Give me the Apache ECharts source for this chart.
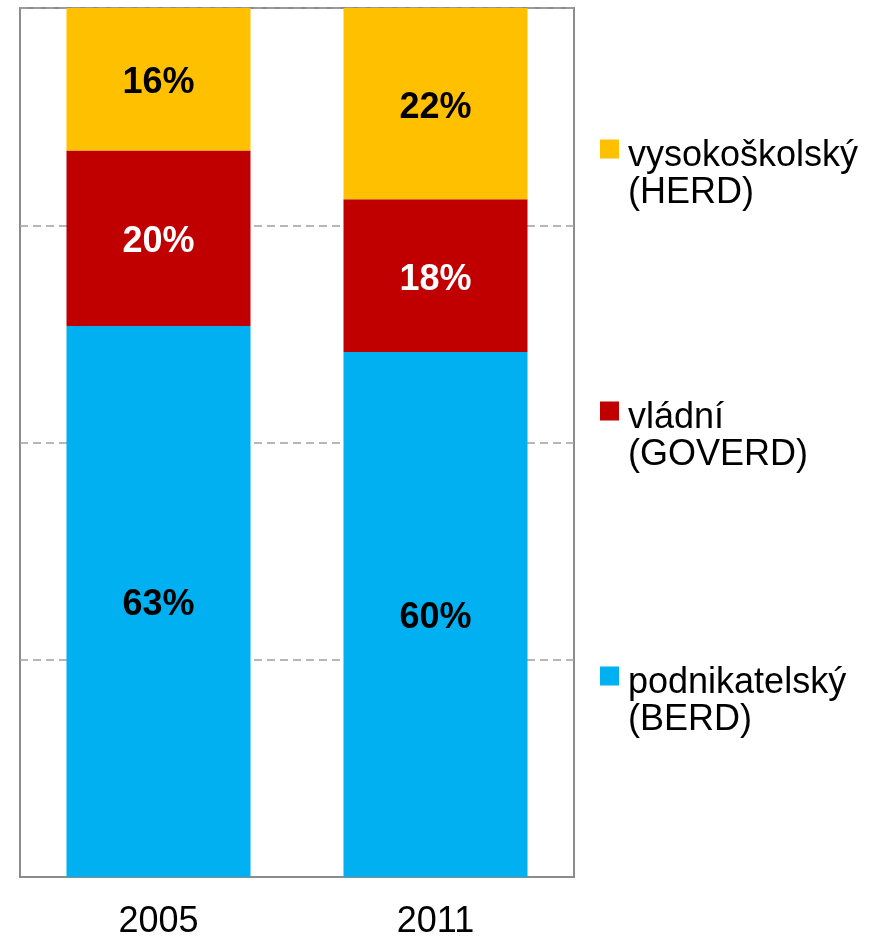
<!DOCTYPE html>
<html>
<head>
<meta charset="utf-8">
<script src="https://cdn.jsdelivr.net/npm/echarts@6/dist/echarts.min.js"></script>
<style>
    html, body { margin: 0; padding: 0; background: #fff; }
    #chart { width: 870px; height: 937px; }
</style>
</head>
<body>
<div id="chart"></div>
<script>
    // data (shares in %, stacked to 100)
    const years = ['2005', '2011'];
    const berd = [63.4, 60.4];    // podnikatelský
    const goverd = [20.2, 17.6];  // vládní
    const herd = [16.4, 22.0];    // vysokoškolský
    const seriesNames = ['podnikatelský\n(BERD)', 'vládní\n(GOVERD)', 'vysokoškolský\n(HERD)'];
    const yTicks = [0, 25, 50, 75, 100];

    const font = 'Liberation Sans, Arial, sans-serif';
    const colors = ['#00B0F0', '#C00000', '#FFC000'];
    const labelColors = ['#000', '#fff', '#000'];
    const values = [berd, goverd, herd];

    let mChart = echarts.init(document.getElementById('chart'));

    // one legend per item so each sits where the original does
    const legendTops = [621, 356, 94];
    let legends = seriesNames.map(function (name, i) {
        return {
            data: [name],
            orient: 'vertical',
            left: 600,
            top: legendTops[i],
            padding: 0,
            icon: 'rect',
            itemWidth: 19,
            itemHeight: 19,
            selectedMode: false,
            // an empty first row pushes the text down so the icon sits by the first line
            formatter: function (n) {
                return '{p| }\n' + n.split('\n').map(function (s) {
                    return '{t|' + s + '}';
                }).join('\n');
            },
            textStyle: {
                fontFamily: font,
                fontSize: 36,
                color: '#000',
                rich: {
                    p: { fontSize: 36, lineHeight: 52, fontFamily: font },
                    t: { fontSize: 36, lineHeight: 37, fontFamily: font, color: '#000', padding: [0, 0, 0, 4] }
                }
            }
        };
    });

    let series = seriesNames.map(function (name, i) {
        return {
            name: name,
            type: 'bar',
            stack: 'total',
            barWidth: 184,
            data: values[i],
            itemStyle: { color: colors[i] },
            label: {
                show: true,
                position: 'inside',
                offset: [0, 4],
                fontFamily: font,
                fontSize: 36,
                fontWeight: 'bold',
                color: labelColors[i],
                formatter: function (p) {
                    return Math.round(p.value) + '%';
                }
            }
        };
    });

    let options = {
        animation: false,
        legend: legends,
        grid: {
            left: 20,
            right: 296,
            top: 8,
            bottom: 60,
            outerBoundsMode: 'none',
            show: true,
            borderColor: '#8c8c8c',
            borderWidth: 2,
            backgroundColor: 'transparent'
        },
        xAxis: {
            type: 'category',
            data: years,
            axisTick: { show: false },
            axisLine: { show: true, lineStyle: { color: '#8c8c8c', width: 2 } },
            axisLabel: {
                fontFamily: font,
                fontSize: 36,
                color: '#000',
                margin: 27
            }
        },
        yAxis: {
            type: 'value',
            min: yTicks[0],
            max: yTicks[yTicks.length - 1],
            interval: yTicks[1] - yTicks[0],
            axisLabel: { show: false },
            axisLine: { show: false },
            axisTick: { show: false },
            // 虚线网格
            splitLine: {
                show: true,
                lineStyle: { color: '#a0a0a0', width: 1.5, type: [8, 5] }
            }
        },
        series: series
    };
    mChart.setOption(options);
</script>
</body>
</html>
